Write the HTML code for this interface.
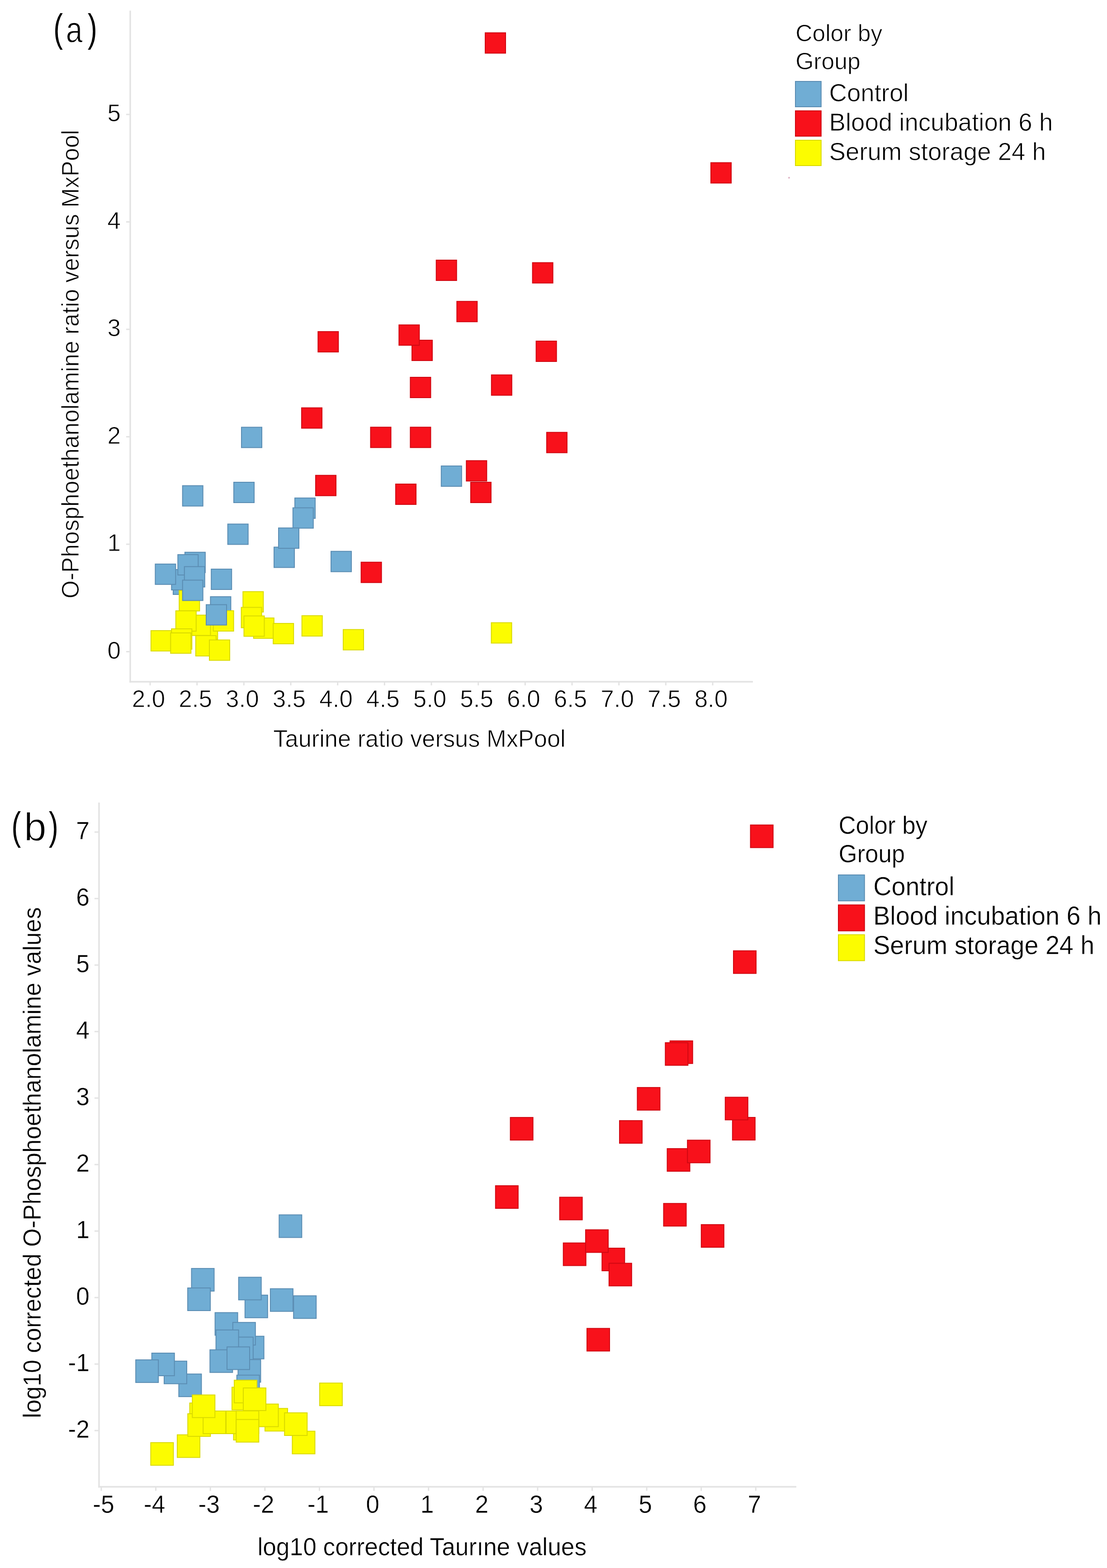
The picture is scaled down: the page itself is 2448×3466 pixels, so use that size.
<!DOCTYPE html>
<html><head><meta charset="utf-8"><title>Figure</title>
<style>
html,body{margin:0;padding:0;background:#fff;}
body{width:2448px;height:3466px;overflow:hidden;}
svg{display:block;}
text{font-family:'Liberation Sans', Arial, sans-serif;fill:#000;stroke:#fff;}
</style></head><body>
<svg width="2448" height="3466" viewBox="0 0 2448 3466">
<rect width="2448" height="3466" fill="#fff"/>
<text transform="translate(118.20 92.10) scale(0.720 1.000)" font-size="86.4" style="stroke:none">(</text>
<text transform="translate(145.80 93.40) scale(0.830 1.000)" font-size="79.4" style="stroke-width:1.3px">a</text>
<text transform="translate(194.10 92.10) scale(0.720 1.000)" font-size="86.4" style="stroke:none">)</text>
<line x1="288.0" y1="23.5" x2="288.0" y2="1508.7" stroke="#e3e3e3" stroke-width="3.4"/>
<line x1="286.3" y1="1507.0" x2="1665.0" y2="1507.0" stroke="#e3e3e3" stroke-width="3.4"/>
<line x1="279.0" y1="1440.5" x2="288.0" y2="1440.5" stroke="#e3e3e3" stroke-width="3"/>
<text transform="translate(267.00 1455.80) scale(1 1.0247)" font-size="53" text-anchor="end" style="stroke-width:0.9px">0</text>
<line x1="279.0" y1="1203.0" x2="288.0" y2="1203.0" stroke="#e3e3e3" stroke-width="3"/>
<text transform="translate(267.00 1218.30) scale(1 1.0247)" font-size="53" text-anchor="end" style="stroke-width:0.9px">1</text>
<line x1="279.0" y1="965.5" x2="288.0" y2="965.5" stroke="#e3e3e3" stroke-width="3"/>
<text transform="translate(267.00 980.80) scale(1 1.0247)" font-size="53" text-anchor="end" style="stroke-width:0.9px">2</text>
<line x1="279.0" y1="728.0" x2="288.0" y2="728.0" stroke="#e3e3e3" stroke-width="3"/>
<text transform="translate(267.00 743.30) scale(1 1.0247)" font-size="53" text-anchor="end" style="stroke-width:0.9px">3</text>
<line x1="279.0" y1="490.5" x2="288.0" y2="490.5" stroke="#e3e3e3" stroke-width="3"/>
<text transform="translate(267.00 505.80) scale(1 1.0247)" font-size="53" text-anchor="end" style="stroke-width:0.9px">4</text>
<line x1="279.0" y1="253.0" x2="288.0" y2="253.0" stroke="#e3e3e3" stroke-width="3"/>
<text transform="translate(267.00 268.30) scale(1 1.0247)" font-size="53" text-anchor="end" style="stroke-width:0.9px">5</text>
<line x1="332.0" y1="1507.0" x2="332.0" y2="1515.0" stroke="#e3e3e3" stroke-width="3"/>
<text transform="translate(328.50 1563.30) scale(1 1.0247)" font-size="53" text-anchor="middle" style="stroke-width:0.9px">2.0</text>
<line x1="435.7" y1="1507.0" x2="435.7" y2="1515.0" stroke="#e3e3e3" stroke-width="3"/>
<text transform="translate(432.17 1563.30) scale(1 1.0247)" font-size="53" text-anchor="middle" style="stroke-width:0.9px">2.5</text>
<line x1="539.3" y1="1507.0" x2="539.3" y2="1515.0" stroke="#e3e3e3" stroke-width="3"/>
<text transform="translate(535.83 1563.30) scale(1 1.0247)" font-size="53" text-anchor="middle" style="stroke-width:0.9px">3.0</text>
<line x1="643.0" y1="1507.0" x2="643.0" y2="1515.0" stroke="#e3e3e3" stroke-width="3"/>
<text transform="translate(639.50 1563.30) scale(1 1.0247)" font-size="53" text-anchor="middle" style="stroke-width:0.9px">3.5</text>
<line x1="746.7" y1="1507.0" x2="746.7" y2="1515.0" stroke="#e3e3e3" stroke-width="3"/>
<text transform="translate(743.16 1563.30) scale(1 1.0247)" font-size="53" text-anchor="middle" style="stroke-width:0.9px">4.0</text>
<line x1="850.3" y1="1507.0" x2="850.3" y2="1515.0" stroke="#e3e3e3" stroke-width="3"/>
<text transform="translate(846.83 1563.30) scale(1 1.0247)" font-size="53" text-anchor="middle" style="stroke-width:0.9px">4.5</text>
<line x1="954.0" y1="1507.0" x2="954.0" y2="1515.0" stroke="#e3e3e3" stroke-width="3"/>
<text transform="translate(950.49 1563.30) scale(1 1.0247)" font-size="53" text-anchor="middle" style="stroke-width:0.9px">5.0</text>
<line x1="1057.7" y1="1507.0" x2="1057.7" y2="1515.0" stroke="#e3e3e3" stroke-width="3"/>
<text transform="translate(1054.16 1563.30) scale(1 1.0247)" font-size="53" text-anchor="middle" style="stroke-width:0.9px">5.5</text>
<line x1="1161.3" y1="1507.0" x2="1161.3" y2="1515.0" stroke="#e3e3e3" stroke-width="3"/>
<text transform="translate(1157.82 1563.30) scale(1 1.0247)" font-size="53" text-anchor="middle" style="stroke-width:0.9px">6.0</text>
<line x1="1265.0" y1="1507.0" x2="1265.0" y2="1515.0" stroke="#e3e3e3" stroke-width="3"/>
<text transform="translate(1261.49 1563.30) scale(1 1.0247)" font-size="53" text-anchor="middle" style="stroke-width:0.9px">6.5</text>
<line x1="1368.7" y1="1507.0" x2="1368.7" y2="1515.0" stroke="#e3e3e3" stroke-width="3"/>
<text transform="translate(1365.15 1563.30) scale(1 1.0247)" font-size="53" text-anchor="middle" style="stroke-width:0.9px">7.0</text>
<line x1="1472.3" y1="1507.0" x2="1472.3" y2="1515.0" stroke="#e3e3e3" stroke-width="3"/>
<text transform="translate(1468.82 1563.30) scale(1 1.0247)" font-size="53" text-anchor="middle" style="stroke-width:0.9px">7.5</text>
<line x1="1576.0" y1="1507.0" x2="1576.0" y2="1515.0" stroke="#e3e3e3" stroke-width="3"/>
<text transform="translate(1572.48 1563.30) scale(1 1.0247)" font-size="53" text-anchor="middle" style="stroke-width:0.9px">8.0</text>
<text transform="translate(604.30 1651.20) scale(1 1.0250)" font-size="52.4" text-anchor="start" style="stroke-width:0.9px">Taurine ratio versus MxPool</text>
<text transform="translate(173.50 1323.10) rotate(-90) scale(1 1.0459)" font-size="51.5" text-anchor="start" style="stroke-width:0.9px">O-Phosphoethanolamine ratio versus MxPool</text>
<rect x="1073.0" y="72.5" width="45" height="45" fill="#f8111b" stroke="#d00812" stroke-width="2"/>
<rect x="1572.0" y="359.6" width="45" height="45" fill="#f8111b" stroke="#d00812" stroke-width="2"/>
<rect x="964.7" y="575.0" width="45" height="45" fill="#f8111b" stroke="#d00812" stroke-width="2"/>
<rect x="1177.6" y="580.6" width="45" height="45" fill="#f8111b" stroke="#d00812" stroke-width="2"/>
<rect x="1010.3" y="666.2" width="45" height="45" fill="#f8111b" stroke="#d00812" stroke-width="2"/>
<rect x="703.3" y="733.0" width="45" height="45" fill="#f8111b" stroke="#d00812" stroke-width="2"/>
<rect x="911.0" y="752.0" width="45" height="45" fill="#f8111b" stroke="#d00812" stroke-width="2"/>
<rect x="882.3" y="718.2" width="45" height="45" fill="#f8111b" stroke="#d00812" stroke-width="2"/>
<rect x="1185.6" y="754.0" width="45" height="45" fill="#f8111b" stroke="#d00812" stroke-width="2"/>
<rect x="907.4" y="834.0" width="45" height="45" fill="#f8111b" stroke="#d00812" stroke-width="2"/>
<rect x="1086.8" y="828.7" width="45" height="45" fill="#f8111b" stroke="#d00812" stroke-width="2"/>
<rect x="667.0" y="901.5" width="45" height="45" fill="#f8111b" stroke="#d00812" stroke-width="2"/>
<rect x="819.5" y="944.3" width="45" height="45" fill="#f8111b" stroke="#d00812" stroke-width="2"/>
<rect x="907.4" y="944.3" width="45" height="45" fill="#f8111b" stroke="#d00812" stroke-width="2"/>
<rect x="1208.9" y="955.7" width="45" height="45" fill="#f8111b" stroke="#d00812" stroke-width="2"/>
<rect x="1040.9" y="1066.0" width="45" height="45" fill="#f8111b" stroke="#d00812" stroke-width="2"/>
<rect x="1031.3" y="1018.3" width="45" height="45" fill="#f8111b" stroke="#d00812" stroke-width="2"/>
<rect x="698.0" y="1050.7" width="45" height="45" fill="#f8111b" stroke="#d00812" stroke-width="2"/>
<rect x="875.0" y="1070.0" width="45" height="45" fill="#f8111b" stroke="#d00812" stroke-width="2"/>
<rect x="798.6" y="1242.7" width="45" height="45" fill="#f8111b" stroke="#d00812" stroke-width="2"/>
<rect x="534.0" y="944.4" width="45" height="45" fill="#70add4" stroke="#5b8db3" stroke-width="2"/>
<rect x="975.8" y="1030.0" width="45" height="45" fill="#70add4" stroke="#5b8db3" stroke-width="2"/>
<rect x="403.7" y="1073.6" width="45" height="45" fill="#70add4" stroke="#5b8db3" stroke-width="2"/>
<rect x="517.0" y="1066.0" width="45" height="45" fill="#70add4" stroke="#5b8db3" stroke-width="2"/>
<rect x="652.0" y="1100.8" width="45" height="45" fill="#70add4" stroke="#5b8db3" stroke-width="2"/>
<rect x="647.8" y="1122.5" width="45" height="45" fill="#70add4" stroke="#5b8db3" stroke-width="2"/>
<rect x="503.7" y="1158.4" width="45" height="45" fill="#70add4" stroke="#5b8db3" stroke-width="2"/>
<rect x="606.0" y="1209.4" width="45" height="45" fill="#70add4" stroke="#5b8db3" stroke-width="2"/>
<rect x="616.0" y="1167.0" width="45" height="45" fill="#70add4" stroke="#5b8db3" stroke-width="2"/>
<rect x="732.0" y="1218.7" width="45" height="45" fill="#70add4" stroke="#5b8db3" stroke-width="2"/>
<rect x="408.9" y="1220.7" width="45" height="45" fill="#70add4" stroke="#5b8db3" stroke-width="2"/>
<rect x="383.0" y="1269.0" width="45" height="45" fill="#70add4" stroke="#5b8db3" stroke-width="2"/>
<rect x="379.3" y="1259.0" width="45" height="45" fill="#70add4" stroke="#5b8db3" stroke-width="2"/>
<rect x="396.3" y="1305.5" width="45" height="45" fill="#fcfc00" stroke="#dada00" stroke-width="2"/>
<rect x="393.3" y="1226.0" width="45" height="45" fill="#70add4" stroke="#5b8db3" stroke-width="2"/>
<rect x="407.8" y="1252.5" width="45" height="45" fill="#70add4" stroke="#5b8db3" stroke-width="2"/>
<rect x="343.4" y="1246.8" width="45" height="45" fill="#70add4" stroke="#5b8db3" stroke-width="2"/>
<rect x="403.7" y="1282.4" width="45" height="45" fill="#70add4" stroke="#5b8db3" stroke-width="2"/>
<rect x="467.2" y="1258.0" width="45" height="45" fill="#70add4" stroke="#5b8db3" stroke-width="2"/>
<rect x="436.3" y="1368.0" width="45" height="45" fill="#fcfc00" stroke="#dada00" stroke-width="2"/>
<rect x="420.4" y="1359.7" width="45" height="45" fill="#fcfc00" stroke="#dada00" stroke-width="2"/>
<rect x="388.8" y="1350.2" width="45" height="45" fill="#fcfc00" stroke="#dada00" stroke-width="2"/>
<rect x="379.3" y="1390.0" width="45" height="45" fill="#fcfc00" stroke="#dada00" stroke-width="2"/>
<rect x="333.9" y="1394.0" width="45" height="45" fill="#fcfc00" stroke="#dada00" stroke-width="2"/>
<rect x="377.3" y="1399.0" width="45" height="45" fill="#fcfc00" stroke="#dada00" stroke-width="2"/>
<rect x="432.9" y="1405.0" width="45" height="45" fill="#fcfc00" stroke="#dada00" stroke-width="2"/>
<rect x="463.0" y="1414.6" width="45" height="45" fill="#fcfc00" stroke="#dada00" stroke-width="2"/>
<rect x="465.4" y="1319.0" width="45" height="45" fill="#70add4" stroke="#5b8db3" stroke-width="2"/>
<rect x="471.6" y="1350.0" width="45" height="45" fill="#fcfc00" stroke="#dada00" stroke-width="2"/>
<rect x="456.0" y="1336.6" width="45" height="45" fill="#70add4" stroke="#5b8db3" stroke-width="2"/>
<rect x="537.3" y="1307.8" width="45" height="45" fill="#fcfc00" stroke="#dada00" stroke-width="2"/>
<rect x="533.6" y="1342.6" width="45" height="45" fill="#fcfc00" stroke="#dada00" stroke-width="2"/>
<rect x="560.8" y="1366.0" width="45" height="45" fill="#fcfc00" stroke="#dada00" stroke-width="2"/>
<rect x="539.5" y="1361.5" width="45" height="45" fill="#fcfc00" stroke="#dada00" stroke-width="2"/>
<rect x="604.2" y="1378.1" width="45" height="45" fill="#fcfc00" stroke="#dada00" stroke-width="2"/>
<rect x="667.7" y="1361.0" width="45" height="45" fill="#fcfc00" stroke="#dada00" stroke-width="2"/>
<rect x="759.0" y="1391.6" width="45" height="45" fill="#fcfc00" stroke="#dada00" stroke-width="2"/>
<rect x="1086.5" y="1376.5" width="45" height="45" fill="#fcfc00" stroke="#dada00" stroke-width="2"/>
<text transform="translate(1759.20 90.50) scale(1 1.0100)" font-size="51.6" text-anchor="start" style="stroke-width:0.9px">Color by</text>
<text transform="translate(1759.20 152.50) scale(1 1.0100)" font-size="51.6" text-anchor="start" style="stroke-width:0.9px">Group</text>
<rect x="1759.0" y="180.0" width="56.8" height="56.0" fill="#70add4" stroke="#5b8db3" stroke-width="2"/>
<text transform="translate(1833.50 223.50) scale(1 1.0035)" font-size="54.6" text-anchor="start" style="stroke-width:0.9px">Control</text>
<rect x="1759.0" y="245.0" width="56.8" height="56.0" fill="#f8111b" stroke="#d00812" stroke-width="2"/>
<text transform="translate(1833.50 289.00) scale(1 1.0035)" font-size="54.6" text-anchor="start" style="stroke-width:0.9px">Blood incubation 6 h</text>
<rect x="1759.0" y="310.0" width="56.8" height="56.0" fill="#fcfc00" stroke="#dada00" stroke-width="2"/>
<text transform="translate(1833.50 353.80) scale(1 1.0035)" font-size="54.6" text-anchor="start" style="stroke-width:0.9px">Serum storage 24 h</text>
<rect x="1743.2" y="391.2" width="3.4" height="3.4" fill="#dcb0c2"/>
<text transform="translate(25.50 1856.40) scale(0.720 1.000)" font-size="86.4" style="stroke:none">(</text>
<text transform="translate(52.90 1858.20) scale(1.020 1.000)" font-size="87.4" style="stroke-width:1.3px">b</text>
<text transform="translate(108.10 1856.40) scale(0.720 1.000)" font-size="86.4" style="stroke:none">)</text>
<line x1="219.0" y1="1774.0" x2="219.0" y2="3288.2" stroke="#e3e3e3" stroke-width="3.4"/>
<line x1="217.3" y1="3286.5" x2="1761.0" y2="3286.5" stroke="#e3e3e3" stroke-width="3.4"/>
<line x1="209.0" y1="3162.2" x2="219.0" y2="3162.2" stroke="#e3e3e3" stroke-width="3"/>
<text transform="translate(198.00 3177.50) scale(1 1.0389)" font-size="53.5" text-anchor="end" style="stroke-width:0.5px">-2</text>
<line x1="209.0" y1="3015.2" x2="219.0" y2="3015.2" stroke="#e3e3e3" stroke-width="3"/>
<text transform="translate(198.00 3030.50) scale(1 1.0389)" font-size="53.5" text-anchor="end" style="stroke-width:0.5px">-1</text>
<line x1="209.0" y1="2868.2" x2="219.0" y2="2868.2" stroke="#e3e3e3" stroke-width="3"/>
<text transform="translate(198.00 2883.50) scale(1 1.0389)" font-size="53.5" text-anchor="end" style="stroke-width:0.5px">0</text>
<line x1="209.0" y1="2721.2" x2="219.0" y2="2721.2" stroke="#e3e3e3" stroke-width="3"/>
<text transform="translate(198.00 2736.50) scale(1 1.0389)" font-size="53.5" text-anchor="end" style="stroke-width:0.5px">1</text>
<line x1="209.0" y1="2574.2" x2="219.0" y2="2574.2" stroke="#e3e3e3" stroke-width="3"/>
<text transform="translate(198.00 2589.50) scale(1 1.0389)" font-size="53.5" text-anchor="end" style="stroke-width:0.5px">2</text>
<line x1="209.0" y1="2427.2" x2="219.0" y2="2427.2" stroke="#e3e3e3" stroke-width="3"/>
<text transform="translate(198.00 2442.50) scale(1 1.0389)" font-size="53.5" text-anchor="end" style="stroke-width:0.5px">3</text>
<line x1="209.0" y1="2280.2" x2="219.0" y2="2280.2" stroke="#e3e3e3" stroke-width="3"/>
<text transform="translate(198.00 2295.50) scale(1 1.0389)" font-size="53.5" text-anchor="end" style="stroke-width:0.5px">4</text>
<line x1="209.0" y1="2133.2" x2="219.0" y2="2133.2" stroke="#e3e3e3" stroke-width="3"/>
<text transform="translate(198.00 2148.50) scale(1 1.0389)" font-size="53.5" text-anchor="end" style="stroke-width:0.5px">5</text>
<line x1="209.0" y1="1986.2" x2="219.0" y2="1986.2" stroke="#e3e3e3" stroke-width="3"/>
<text transform="translate(198.00 2001.50) scale(1 1.0389)" font-size="53.5" text-anchor="end" style="stroke-width:0.5px">6</text>
<line x1="209.0" y1="1839.2" x2="219.0" y2="1839.2" stroke="#e3e3e3" stroke-width="3"/>
<text transform="translate(198.00 1854.50) scale(1 1.0389)" font-size="53.5" text-anchor="end" style="stroke-width:0.5px">7</text>
<line x1="224.0" y1="3286.5" x2="224.0" y2="3295.5" stroke="#e3e3e3" stroke-width="3"/>
<text transform="translate(229.00 3343.80) scale(1 1.0389)" font-size="53.5" text-anchor="middle" style="stroke-width:0.5px">-5</text>
<line x1="344.6" y1="3286.5" x2="344.6" y2="3295.5" stroke="#e3e3e3" stroke-width="3"/>
<text transform="translate(341.61 3343.80) scale(1 1.0389)" font-size="53.5" text-anchor="middle" style="stroke-width:0.5px">-4</text>
<line x1="465.2" y1="3286.5" x2="465.2" y2="3295.5" stroke="#e3e3e3" stroke-width="3"/>
<text transform="translate(462.22 3343.80) scale(1 1.0389)" font-size="53.5" text-anchor="middle" style="stroke-width:0.5px">-3</text>
<line x1="585.8" y1="3286.5" x2="585.8" y2="3295.5" stroke="#e3e3e3" stroke-width="3"/>
<text transform="translate(582.83 3343.80) scale(1 1.0389)" font-size="53.5" text-anchor="middle" style="stroke-width:0.5px">-2</text>
<line x1="706.4" y1="3286.5" x2="706.4" y2="3295.5" stroke="#e3e3e3" stroke-width="3"/>
<text transform="translate(703.44 3343.80) scale(1 1.0389)" font-size="53.5" text-anchor="middle" style="stroke-width:0.5px">-1</text>
<line x1="827.0" y1="3286.5" x2="827.0" y2="3295.5" stroke="#e3e3e3" stroke-width="3"/>
<text transform="translate(824.05 3343.80) scale(1 1.0389)" font-size="53.5" text-anchor="middle" style="stroke-width:0.5px">0</text>
<line x1="947.7" y1="3286.5" x2="947.7" y2="3295.5" stroke="#e3e3e3" stroke-width="3"/>
<text transform="translate(944.66 3343.80) scale(1 1.0389)" font-size="53.5" text-anchor="middle" style="stroke-width:0.5px">1</text>
<line x1="1068.3" y1="3286.5" x2="1068.3" y2="3295.5" stroke="#e3e3e3" stroke-width="3"/>
<text transform="translate(1065.27 3343.80) scale(1 1.0389)" font-size="53.5" text-anchor="middle" style="stroke-width:0.5px">2</text>
<line x1="1188.9" y1="3286.5" x2="1188.9" y2="3295.5" stroke="#e3e3e3" stroke-width="3"/>
<text transform="translate(1185.88 3343.80) scale(1 1.0389)" font-size="53.5" text-anchor="middle" style="stroke-width:0.5px">3</text>
<line x1="1309.5" y1="3286.5" x2="1309.5" y2="3295.5" stroke="#e3e3e3" stroke-width="3"/>
<text transform="translate(1306.49 3343.80) scale(1 1.0389)" font-size="53.5" text-anchor="middle" style="stroke-width:0.5px">4</text>
<line x1="1430.1" y1="3286.5" x2="1430.1" y2="3295.5" stroke="#e3e3e3" stroke-width="3"/>
<text transform="translate(1427.10 3343.80) scale(1 1.0389)" font-size="53.5" text-anchor="middle" style="stroke-width:0.5px">5</text>
<line x1="1550.7" y1="3286.5" x2="1550.7" y2="3295.5" stroke="#e3e3e3" stroke-width="3"/>
<text transform="translate(1547.71 3343.80) scale(1 1.0389)" font-size="53.5" text-anchor="middle" style="stroke-width:0.5px">6</text>
<line x1="1671.3" y1="3286.5" x2="1671.3" y2="3295.5" stroke="#e3e3e3" stroke-width="3"/>
<text transform="translate(1668.32 3343.80) scale(1 1.0389)" font-size="53.5" text-anchor="middle" style="stroke-width:0.5px">7</text>
<text transform="translate(569.40 3437.80) scale(1 1.0440)" font-size="53.3" text-anchor="start" style="stroke-width:0.5px">log10 corrected Taurıne values</text>
<text transform="translate(89.50 3134.80) rotate(-90) scale(1 1.0442)" font-size="52.8" text-anchor="start" style="stroke-width:0.5px">log10 corrected O-Phosphoethanolamine values</text>
<rect x="1659.6" y="1823.6" width="50" height="50" fill="#f8111b" stroke="#d00812" stroke-width="2"/>
<rect x="1622.0" y="2101.7" width="50" height="50" fill="#f8111b" stroke="#d00812" stroke-width="2"/>
<rect x="1481.7" y="2300.8" width="50" height="50" fill="#f8111b" stroke="#d00812" stroke-width="2"/>
<rect x="1471.3" y="2304.8" width="50" height="50" fill="#f8111b" stroke="#d00812" stroke-width="2"/>
<rect x="1409.4" y="2403.9" width="50" height="50" fill="#f8111b" stroke="#d00812" stroke-width="2"/>
<rect x="1619.8" y="2470.0" width="50" height="50" fill="#f8111b" stroke="#d00812" stroke-width="2"/>
<rect x="1603.8" y="2425.4" width="50" height="50" fill="#f8111b" stroke="#d00812" stroke-width="2"/>
<rect x="1370.0" y="2477.1" width="50" height="50" fill="#f8111b" stroke="#d00812" stroke-width="2"/>
<rect x="1128.6" y="2470.1" width="50" height="50" fill="#f8111b" stroke="#d00812" stroke-width="2"/>
<rect x="1475.5" y="2539.0" width="50" height="50" fill="#f8111b" stroke="#d00812" stroke-width="2"/>
<rect x="1520.2" y="2520.3" width="50" height="50" fill="#f8111b" stroke="#d00812" stroke-width="2"/>
<rect x="1095.8" y="2621.0" width="50" height="50" fill="#f8111b" stroke="#d00812" stroke-width="2"/>
<rect x="1237.6" y="2646.4" width="50" height="50" fill="#f8111b" stroke="#d00812" stroke-width="2"/>
<rect x="1467.5" y="2660.2" width="50" height="50" fill="#f8111b" stroke="#d00812" stroke-width="2"/>
<rect x="1550.8" y="2707.0" width="50" height="50" fill="#f8111b" stroke="#d00812" stroke-width="2"/>
<rect x="1245.7" y="2747.5" width="50" height="50" fill="#f8111b" stroke="#d00812" stroke-width="2"/>
<rect x="1331.3" y="2759.0" width="50" height="50" fill="#f8111b" stroke="#d00812" stroke-width="2"/>
<rect x="1295.0" y="2718.4" width="50" height="50" fill="#f8111b" stroke="#d00812" stroke-width="2"/>
<rect x="1346.8" y="2792.4" width="50" height="50" fill="#f8111b" stroke="#d00812" stroke-width="2"/>
<rect x="1298.0" y="2936.4" width="50" height="50" fill="#f8111b" stroke="#d00812" stroke-width="2"/>
<rect x="617.3" y="2685.4" width="50" height="50" fill="#70add4" stroke="#5b8db3" stroke-width="2"/>
<rect x="423.5" y="2803.9" width="50" height="50" fill="#70add4" stroke="#5b8db3" stroke-width="2"/>
<rect x="415.1" y="2847.0" width="50" height="50" fill="#70add4" stroke="#5b8db3" stroke-width="2"/>
<rect x="541.8" y="2862.8" width="50" height="50" fill="#70add4" stroke="#5b8db3" stroke-width="2"/>
<rect x="527.7" y="2823.3" width="50" height="50" fill="#70add4" stroke="#5b8db3" stroke-width="2"/>
<rect x="597.9" y="2848.7" width="50" height="50" fill="#70add4" stroke="#5b8db3" stroke-width="2"/>
<rect x="649.2" y="2864.3" width="50" height="50" fill="#70add4" stroke="#5b8db3" stroke-width="2"/>
<rect x="475.6" y="2901.5" width="50" height="50" fill="#70add4" stroke="#5b8db3" stroke-width="2"/>
<rect x="533.6" y="2953.7" width="50" height="50" fill="#70add4" stroke="#5b8db3" stroke-width="2"/>
<rect x="514.8" y="2923.2" width="50" height="50" fill="#70add4" stroke="#5b8db3" stroke-width="2"/>
<rect x="509.8" y="2955.6" width="50" height="50" fill="#70add4" stroke="#5b8db3" stroke-width="2"/>
<rect x="477.6" y="2939.8" width="50" height="50" fill="#70add4" stroke="#5b8db3" stroke-width="2"/>
<rect x="464.3" y="2983.7" width="50" height="50" fill="#70add4" stroke="#5b8db3" stroke-width="2"/>
<rect x="526.4" y="3005.3" width="50" height="50" fill="#70add4" stroke="#5b8db3" stroke-width="2"/>
<rect x="502.0" y="2977.3" width="50" height="50" fill="#70add4" stroke="#5b8db3" stroke-width="2"/>
<rect x="523.7" y="3039.7" width="50" height="50" fill="#70add4" stroke="#5b8db3" stroke-width="2"/>
<rect x="395.4" y="3037.2" width="50" height="50" fill="#70add4" stroke="#5b8db3" stroke-width="2"/>
<rect x="363.0" y="3008.7" width="50" height="50" fill="#70add4" stroke="#5b8db3" stroke-width="2"/>
<rect x="335.7" y="2991.0" width="50" height="50" fill="#70add4" stroke="#5b8db3" stroke-width="2"/>
<rect x="300.2" y="3005.9" width="50" height="50" fill="#70add4" stroke="#5b8db3" stroke-width="2"/>
<rect x="333.4" y="3188.9" width="50" height="50" fill="#fcfc00" stroke="#dada00" stroke-width="2"/>
<rect x="392.0" y="3171.6" width="50" height="50" fill="#fcfc00" stroke="#dada00" stroke-width="2"/>
<rect x="516.5" y="3133.0" width="50" height="50" fill="#fcfc00" stroke="#dada00" stroke-width="2"/>
<rect x="419.6" y="3101.3" width="50" height="50" fill="#fcfc00" stroke="#dada00" stroke-width="2"/>
<rect x="415.3" y="3125.0" width="50" height="50" fill="#fcfc00" stroke="#dada00" stroke-width="2"/>
<rect x="449.2" y="3119.0" width="50" height="50" fill="#fcfc00" stroke="#dada00" stroke-width="2"/>
<rect x="500.0" y="3119.0" width="50" height="50" fill="#fcfc00" stroke="#dada00" stroke-width="2"/>
<rect x="425.3" y="3083.5" width="50" height="50" fill="#fcfc00" stroke="#dada00" stroke-width="2"/>
<rect x="646.4" y="3163.6" width="50" height="50" fill="#fcfc00" stroke="#dada00" stroke-width="2"/>
<rect x="586.0" y="3113.3" width="50" height="50" fill="#fcfc00" stroke="#dada00" stroke-width="2"/>
<rect x="629.2" y="3123.0" width="50" height="50" fill="#fcfc00" stroke="#dada00" stroke-width="2"/>
<rect x="565.5" y="3103.6" width="50" height="50" fill="#fcfc00" stroke="#dada00" stroke-width="2"/>
<rect x="513.0" y="3066.4" width="50" height="50" fill="#fcfc00" stroke="#dada00" stroke-width="2"/>
<rect x="518.0" y="3050.9" width="50" height="50" fill="#fcfc00" stroke="#dada00" stroke-width="2"/>
<rect x="538.0" y="3068.0" width="50" height="50" fill="#fcfc00" stroke="#dada00" stroke-width="2"/>
<rect x="522.3" y="3118.7" width="50" height="50" fill="#fcfc00" stroke="#dada00" stroke-width="2"/>
<rect x="522.3" y="3137.7" width="50" height="50" fill="#fcfc00" stroke="#dada00" stroke-width="2"/>
<rect x="706.9" y="3057.2" width="50" height="50" fill="#fcfc00" stroke="#dada00" stroke-width="2"/>
<text transform="translate(1854.40 1843.00) scale(1 1.0411)" font-size="52.8" text-anchor="start" style="stroke-width:0.5px">Color by</text>
<text transform="translate(1854.40 1906.20) scale(1 1.0411)" font-size="52.8" text-anchor="start" style="stroke-width:0.5px">Group</text>
<rect x="1854.0" y="1934.0" width="57.7" height="57.3" fill="#70add4" stroke="#5b8db3" stroke-width="2"/>
<text transform="translate(1931.20 1979.30) scale(1 1.0201)" font-size="55.7" text-anchor="start" style="stroke-width:0.5px">Control</text>
<rect x="1854.0" y="2000.3" width="57.7" height="57.3" fill="#f8111b" stroke="#d00812" stroke-width="2"/>
<text transform="translate(1931.20 2043.50) scale(1 1.0201)" font-size="55.7" text-anchor="start" style="stroke-width:0.5px">Blood incubation 6 h</text>
<rect x="1854.0" y="2066.2" width="57.7" height="57.3" fill="#fcfc00" stroke="#dada00" stroke-width="2"/>
<text transform="translate(1931.20 2108.50) scale(1 1.0201)" font-size="55.7" text-anchor="start" style="stroke-width:0.5px">Serum storage 24 h</text>
</svg>
</body></html>
